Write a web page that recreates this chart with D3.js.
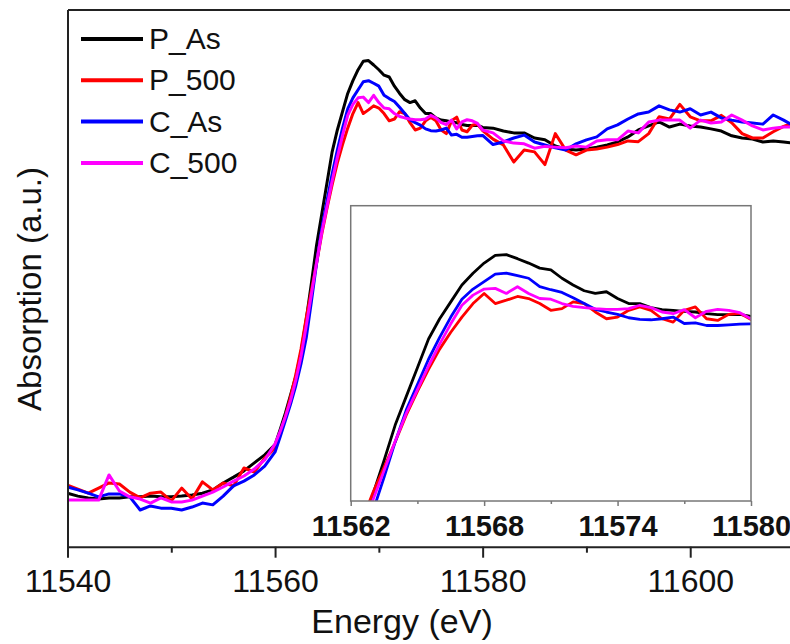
<!DOCTYPE html>
<html>
<head>
<meta charset="utf-8">
<script src="https://cdn.jsdelivr.net/npm/d3@7"></script>
<style>
  body { margin: 0; background: #fff; }
  .chart text { font-family: "Liberation Sans", Arial, sans-serif; fill: #111; }
</style>
</head>
<body>
<div class="chart"></div>
<script>
// Energy grid (eV)
var energy = [
    11540, 11541, 11542, 11543, 11544, 11545, 11546, 11547, 11548, 11549,
    11550, 11551, 11552, 11553, 11554, 11555, 11556, 11557, 11558, 11559, 11560,
    11560.5, 11561, 11561.5, 11562, 11562.5, 11563, 11563.5, 11564, 11564.5, 11565,
    11565.5, 11566, 11566.5, 11567, 11567.5, 11568, 11568.5, 11569, 11569.5, 11570,
    11570.5, 11571, 11571.5, 11572, 11572.5, 11573, 11573.5, 11574, 11574.5, 11575,
    11575.5, 11576, 11576.5, 11577, 11577.5, 11578, 11578.5, 11579, 11579.5, 11580,
    11581, 11582, 11583, 11584, 11585, 11586, 11587, 11588, 11589, 11590,
    11591, 11592, 11593, 11594, 11595, 11596, 11597, 11598, 11599, 11600,
    11601, 11602, 11603, 11604, 11605, 11606, 11607, 11608, 11609, 11610, 11611
];

// Normalized absorption for each sample
var pAs = [
    0.005, -0.003, -0.008, -0.011, -0.008, -0.008, -0.005, -0.005, -0.003, -0.005,
    -0.005, -0.003, 0.000, 0.005, 0.014, 0.033, 0.049, 0.066, 0.088, 0.110, 0.138,
    0.18, 0.225, 0.275, 0.325, 0.39, 0.48, 0.58, 0.685, 0.77, 0.855,
    0.94, 1.0, 1.05, 1.1, 1.135, 1.165, 1.188, 1.19, 1.178, 1.165,
    1.15, 1.145, 1.12, 1.10, 1.083, 1.075, 1.08, 1.06, 1.045, 1.045,
    1.033, 1.027, 1.025, 1.022, 1.02, 1.015, 1.012, 1.012, 1.013, 1.007,
    1.005, 0.997, 0.992, 0.992, 0.978, 0.973, 0.956, 0.948, 0.945, 0.948,
    0.953, 0.959, 0.967, 0.981, 1.0, 1.011, 1.022, 1.008, 1.016, 1.011,
    1.008, 1.003, 0.997, 0.984, 0.978, 0.975, 0.967, 0.970, 0.967, 0.964, 0.962
];

var p500 = [
    0.027, 0.016, 0.005, 0.019, 0.033, 0.030, 0.008, -0.008, 0.005, 0.008,
    -0.016, 0.019, -0.011, 0.036, 0.014, 0.033, 0.025, 0.074, 0.063, 0.101, 0.129,
    0.17, 0.215, 0.27, 0.33, 0.40, 0.485, 0.56, 0.635, 0.715, 0.785,
    0.85, 0.91, 0.96, 1.005, 1.045, 1.075, 1.045, 1.055, 1.066, 1.06,
    1.045, 1.025, 1.03, 1.05, 1.045, 1.02, 1.0, 1.005, 1.025, 1.035,
    1.025, 1.0, 0.99, 1.025, 1.035, 1.0, 0.995, 1.013, 1.016, 0.998,
    0.975, 0.959, 0.912, 0.945, 0.94, 0.905, 0.99, 0.945, 0.932, 0.945,
    0.948, 0.953, 0.96, 0.97, 0.968, 0.99, 1.036, 1.03, 1.07, 1.036,
    1.025, 1.025, 1.04, 1.02, 0.99, 0.978, 0.978, 0.995, 1.01, 1.02, 1.025
];

var cAs = [
    0.022, 0.014, 0.005, -0.005, 0.003, 0.003, -0.005, -0.041, -0.030, -0.036,
    -0.036, -0.041, -0.033, -0.022, -0.027, -0.003, 0.025, 0.038, 0.055, 0.079, 0.118,
    0.16, 0.205, 0.25, 0.30, 0.36, 0.43, 0.53, 0.635, 0.73, 0.805,
    0.88, 0.945, 1.005, 1.058, 1.088, 1.11, 1.132, 1.135, 1.128, 1.12,
    1.095, 1.086, 1.078, 1.062, 1.045, 1.028, 1.02, 1.013, 1.003, 0.998,
    0.997, 1.0, 1.005, 0.986, 0.988, 0.98, 0.98, 0.982, 0.984, 0.985,
    0.96, 0.967, 0.978, 0.986, 0.967, 0.959, 0.951, 0.945, 0.962, 0.973,
    0.981, 1.003, 1.014, 1.030, 1.044, 1.049, 1.066, 1.055, 1.049, 1.058,
    1.041, 1.049, 1.033, 1.027, 1.022, 1.019, 1.016, 1.041, 1.027, 1.011, 1.005
];

var c500 = [
    -0.014, -0.014, -0.014, -0.014, 0.055, 0.011, -0.005, -0.011, -0.022, -0.008,
    -0.019, -0.019, -0.014, -0.003, 0.008, 0.022, 0.038, 0.052, 0.071, 0.096, 0.140,
    0.175, 0.215, 0.26, 0.315, 0.38, 0.463, 0.55, 0.637, 0.72, 0.79,
    0.86, 0.925, 0.985, 1.04, 1.07, 1.088, 1.09, 1.075, 1.095, 1.075,
    1.06, 1.058, 1.045, 1.037, 1.033, 1.03, 1.028, 1.028, 1.03, 1.04,
    1.033, 1.02, 1.015, 1.027, 1.003, 1.022, 1.028, 1.025, 1.018, 1.0,
    0.992, 0.97, 0.964, 0.962, 0.95, 0.955, 0.953, 0.951, 0.956, 0.953,
    0.970, 0.973, 0.973, 0.997, 0.992, 1.022, 1.027, 1.027, 1.027, 1.005,
    1.027, 1.019, 1.022, 1.041, 1.027, 1.011, 1.0, 1.005, 1.008, 1.008, 1.008
];

var seriesNames = ["P_As", "P_500", "C_As", "C_500"];
var seriesColors = ["#000000", "#ff0000", "#0000ff", "#ff00ff"];
var seriesValues = [pAs, p500, cAs, c500];

var mainTicks = [11540, 11560, 11580, 11600];
var mainMinorTicks = [11550, 11570, 11590, 11610];
var insetTicks = [11562, 11568, 11574, 11580];
var insetMinorTicks = [11565, 11571, 11577];

function init() {
    var w = 790;
    var h = 644;

    var svg = d3.select(".chart")
        .append("svg")
        .attr("width", w)
        .attr("height", h);

    // main plot area
    var left = 67.5, right = 794, top = 9.5, bottom = 546.7;

    var xScale = d3.scaleLinear()
        .domain([11540, 11610])
        .range([left, right]);

    var yScale = d3.scaleLinear()
        .domain([-0.1416, 1.33])
        .range([bottom, top]);

    var data = seriesValues.map(function(vals, i) {
        return {
            name: seriesNames[i],
            color: seriesColors[i],
            points: energy.map(function(e, j) { return { e: e, v: vals[j] }; })
        };
    });

    svg.append("clipPath")
        .attr("id", "mainClip")
        .append("rect")
        .attr("x", left)
        .attr("y", top)
        .attr("width", right - left)
        .attr("height", bottom - top);

    var line = d3.line()
        .x(function(d) { return xScale(d.e); })
        .y(function(d) { return yScale(d.v); });

    svg.append("g")
        .attr("clip-path", "url(#mainClip)")
        .selectAll("path")
        .data(data)
        .enter().append("path")
        .attr("d", function(d) { return line(d.points); })
        .attr("fill", "none")
        .attr("stroke", function(d) { return d.color; })
        .attr("stroke-width", 3)
        .attr("stroke-linejoin", "round");

    // x axis with major and minor ticks
    var xAxis = d3.axisBottom(xScale)
        .tickValues(mainTicks)
        .tickSize(11)
        .tickSizeOuter(0)
        .tickPadding(12)
        .tickFormat(function(d) { return d; });

    var gx = svg.append("g")
        .attr("transform", "translate(0," + bottom + ")")
        .call(xAxis);
    gx.selectAll("text")
        .style("font-size", "32px");

    var gxMinor = svg.append("g")
        .attr("transform", "translate(0," + bottom + ")")
        .call(d3.axisBottom(xScale).tickValues(mainMinorTicks).tickSize(6).tickSizeOuter(0).tickFormat(""));
    gxMinor.select(".domain").remove();

    // left and top frame lines
    svg.append("g")
        .attr("transform", "translate(" + left + ",0)")
        .call(d3.axisLeft(yScale).tickValues([]).tickSizeOuter(0));

    svg.append("g")
        .attr("transform", "translate(0," + top + ")")
        .call(d3.axisTop(xScale).tickValues([]).tickSizeOuter(0));

    svg.selectAll(".domain, .tick line")
        .attr("stroke", "#222")
        .attr("stroke-width", 2);

    // axis titles
    svg.append("text")
        .attr("x", 402)
        .attr("y", 633)
        .attr("text-anchor", "middle")
        .style("font-size", "34px")
        .text("Energy (eV)");

    svg.append("text")
        .attr("transform", "translate(41,289) rotate(-90)")
        .attr("text-anchor", "middle")
        .style("font-size", "33px")
        .text("Absorption (a.u.)");

    // legend
    var legend = svg.append("g")
        .selectAll("g")
        .data(data)
        .enter().append("g")
        .attr("transform", function(d, i) { return "translate(81," + (39 + i * 41.3) + ")"; });

    legend.append("line")
        .attr("x1", 0)
        .attr("x2", 62)
        .attr("stroke", function(d) { return d.color; })
        .attr("stroke-width", 4);

    legend.append("text")
        .attr("x", 68)
        .attr("y", 10)
        .style("font-size", "30px")
        .text(function(d) { return d.name; });

    // inset
    var iLeft = 350.7, iRight = 751, iTop = 205.7, iBottom = 501;

    var xIn = d3.scaleLinear()
        .domain([11562, 11580])
        .range([iLeft, iRight]);

    var yIn = d3.scaleLinear()
        .domain([0.46, 1.335])
        .range([iBottom, iTop]);

    svg.append("rect")
        .attr("x", iLeft)
        .attr("y", iTop)
        .attr("width", iRight - iLeft)
        .attr("height", iBottom - iTop)
        .attr("fill", "#fff");

    svg.append("clipPath")
        .attr("id", "insetClip")
        .append("rect")
        .attr("x", iLeft)
        .attr("y", iTop)
        .attr("width", iRight - iLeft)
        .attr("height", iBottom - iTop);

    var insetLine = d3.line()
        .x(function(d) { return xIn(d.e); })
        .y(function(d) { return yIn(d.v); });

    svg.append("g")
        .attr("clip-path", "url(#insetClip)")
        .selectAll("path")
        .data(data)
        .enter().append("path")
        .attr("d", function(d) { return insetLine(d.points); })
        .attr("fill", "none")
        .attr("stroke", function(d) { return d.color; })
        .attr("stroke-width", 2.8)
        .attr("stroke-linejoin", "round");

    svg.append("rect")
        .attr("x", iLeft)
        .attr("y", iTop)
        .attr("width", iRight - iLeft)
        .attr("height", iBottom - iTop)
        .attr("fill", "none")
        .attr("stroke", "#777")
        .attr("stroke-width", 1.5);

    var gi = svg.append("g")
        .attr("transform", "translate(0," + iBottom + ")")
        .call(d3.axisBottom(xIn).tickValues(insetTicks).tickSize(5).tickSizeOuter(0).tickPadding(9)
            .tickFormat(function(d) { return d; }));
    gi.select(".domain").remove();
    gi.selectAll("text")
        .style("font-size", "29px")
        .style("font-weight", "bold");

    var giMinor = svg.append("g")
        .attr("transform", "translate(0," + iBottom + ")")
        .call(d3.axisBottom(xIn).tickValues(insetMinorTicks).tickSize(3).tickSizeOuter(0).tickFormat(""));
    giMinor.select(".domain").remove();

    gi.selectAll(".tick line").attr("stroke", "#777").attr("stroke-width", 1.5);
    giMinor.selectAll(".tick line").attr("stroke", "#777").attr("stroke-width", 1.5);
}

window.onload = init;
</script>
</body>
</html>
